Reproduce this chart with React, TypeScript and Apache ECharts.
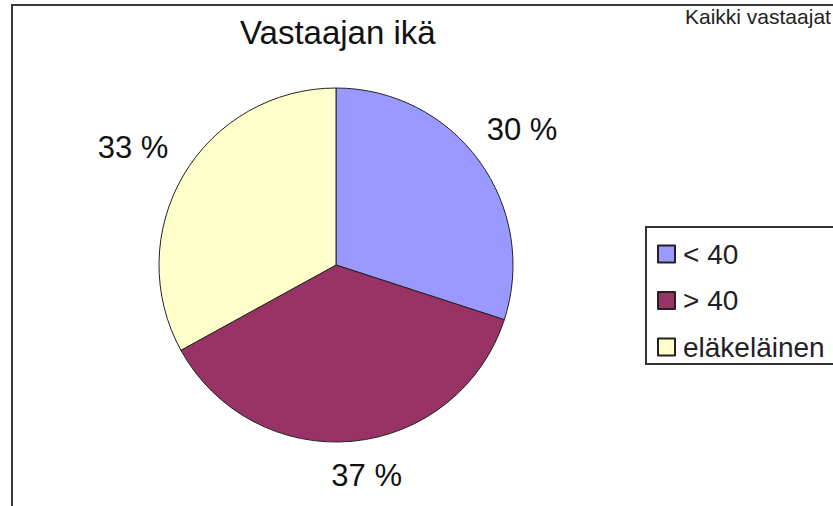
import React, { useEffect, useRef } from "react";
import * as echarts from "echarts";

const categories = ["< 40", "> 40", "eläkeläinen"];
const values = [30, 37, 33];
const colors = ["#9999FF", "#993366", "#FFFFCC"];
const pctLabels = ["30 %", "37 %", "33 %"];
const titleText = "Vastaajan ikä";
const subText = "Kaikki vastaajat";

const FONT = "'Liberation Sans', Arial, sans-serif";

export default function App() {
  const ref = useRef<HTMLDivElement>(null);
  useEffect(() => {
    document.body.style.margin = "0";
    if (!ref.current) return;
    const chart = echarts.init(ref.current, null, { renderer: "svg" });
    const cx = 336;
    const cy = 265;
    const labelOffsets: number[][] = [[0, 0], [9, -18], [-5, 0]];
    chart.setOption({
      animation: false,
      backgroundColor: "#ffffff",
      title: [
        {
          text: titleText,
          left: 240,
          top: 16,
          padding: 0,
          textStyle: { fontFamily: FONT, fontSize: 33, fontWeight: "normal", color: "#111" },
        },
        {
          text: subText,
          left: 685,
          top: 6,
          padding: 0,
          textStyle: { fontFamily: FONT, fontSize: 21, fontWeight: "normal", color: "#222" },
        },
      ],
      legend: {
        orient: "vertical",
        left: 657,
        top: 240,
        padding: 0,
        icon: "rect",
        itemWidth: 17,
        itemHeight: 17,
        itemGap: 18.5,
        data: categories,
        selectedMode: false,
        textStyle: { fontFamily: FONT, fontSize: 28, lineHeight: 26, color: "#222", padding: [0, 0, 0, 3] },
      },
      graphic: [
        { type: "line", shape: { x1: 12, y1: 4, x2: 12, y2: 506 }, style: { stroke: "#3a3a3a", lineWidth: 2 } },
        { type: "line", shape: { x1: 11, y1: 5, x2: 833, y2: 5 }, style: { stroke: "#3a3a3a", lineWidth: 2 } },
        {
          type: "rect",
          shape: { x: 646, y: 227, width: 300, height: 137 },
          style: { fill: "none", stroke: "#333", lineWidth: 2 },
          z: -1,
        },
      ],
      series: [
        {
          type: "pie",
          center: [cx, cy],
          radius: [0, 177],
          startAngle: 90,
          clockwise: true,
          silent: true,
          label: { show: false },
          labelLine: { show: false },
          emphasis: { disabled: true },
          data: categories.map((c, i) => ({
            name: c,
            value: values[i],
            itemStyle: { color: colors[i], borderColor: "#222", borderWidth: 1 },
          })),
        },
        {
          type: "pie",
          center: [cx, cy],
          radius: [0, 454],
          startAngle: 90,
          clockwise: true,
          silent: true,
          z: 3,
          emphasis: { disabled: true },
          itemStyle: { color: "rgba(0,0,0,0)", borderWidth: 0 },
          labelLine: { show: false },
          label: {
            show: true,
            position: "inside",
            fontFamily: FONT,
            fontSize: 31,
            color: "#111",
          },
          data: categories.map((c, i) => ({
            name: "lbl" + i,
            value: values[i],
            label: { formatter: pctLabels[i], offset: labelOffsets[i] },
          })),
        },
      ],
    });
    return () => chart.dispose();
  }, []);
  return <div ref={ref} style={{ width: 833, height: 506 }} />;
}
